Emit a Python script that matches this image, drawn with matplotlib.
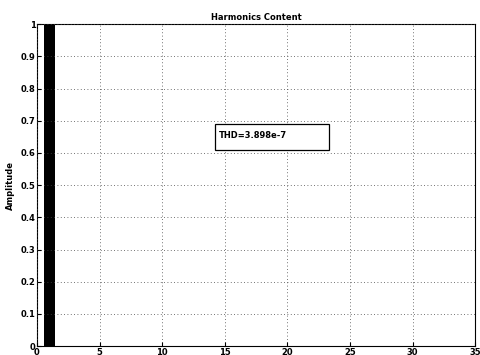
import matplotlib
matplotlib.use("Agg")
import matplotlib.pyplot as plt
from matplotlib.patches import Rectangle

harmonic_order = [1]
amplitude = [1.0]
xticks = [0, 5, 10, 15, 20, 25, 30, 35]
yticks = [0, 0.1, 0.2, 0.3, 0.4, 0.5, 0.6, 0.7, 0.8, 0.9, 1]
ytick_labels = ["0", "0.1", "0.2", "0.3", "0.4", "0.5", "0.6", "0.7", "0.8", "0.9", "1"]
thd_text = "THD=3.898e-7"

fig = plt.figure(figsize=(4.8, 3.55), dpi=100)
ax = fig.add_axes([0.077, 0.025, 0.913, 0.907])
ax.bar(harmonic_order, amplitude, width=0.95, color="black")
ax.set_xlim(0, 35)
ax.set_ylim(0, 1)
ax.set_xticks(xticks)
ax.set_yticks(yticks)
ax.set_yticklabels(ytick_labels)
ax.tick_params(direction="in", length=3, labelsize=6, pad=1)
for lbl in ax.get_xticklabels() + ax.get_yticklabels():
    lbl.set_fontweight("bold")
ax.grid(True, linestyle=(0, (1, 3)), color="#444444", linewidth=0.6)
ax.set_axisbelow(False)
ax.set_title("Harmonics Content", fontsize=6, fontweight="bold", pad=3)
ax.set_ylabel("Amplitude", fontsize=6, fontweight="bold", labelpad=4)
ax.add_patch(Rectangle((14.2, 0.61), 9.1, 0.08, fc="white", ec="black", lw=0.9, zorder=3))
ax.text(14.5, 0.655, thd_text, fontsize=6, fontweight="bold", va="center", ha="left", zorder=4)
for s in ax.spines.values():
    s.set_linewidth(0.8)
fig.savefig("out.png", dpi=100)
